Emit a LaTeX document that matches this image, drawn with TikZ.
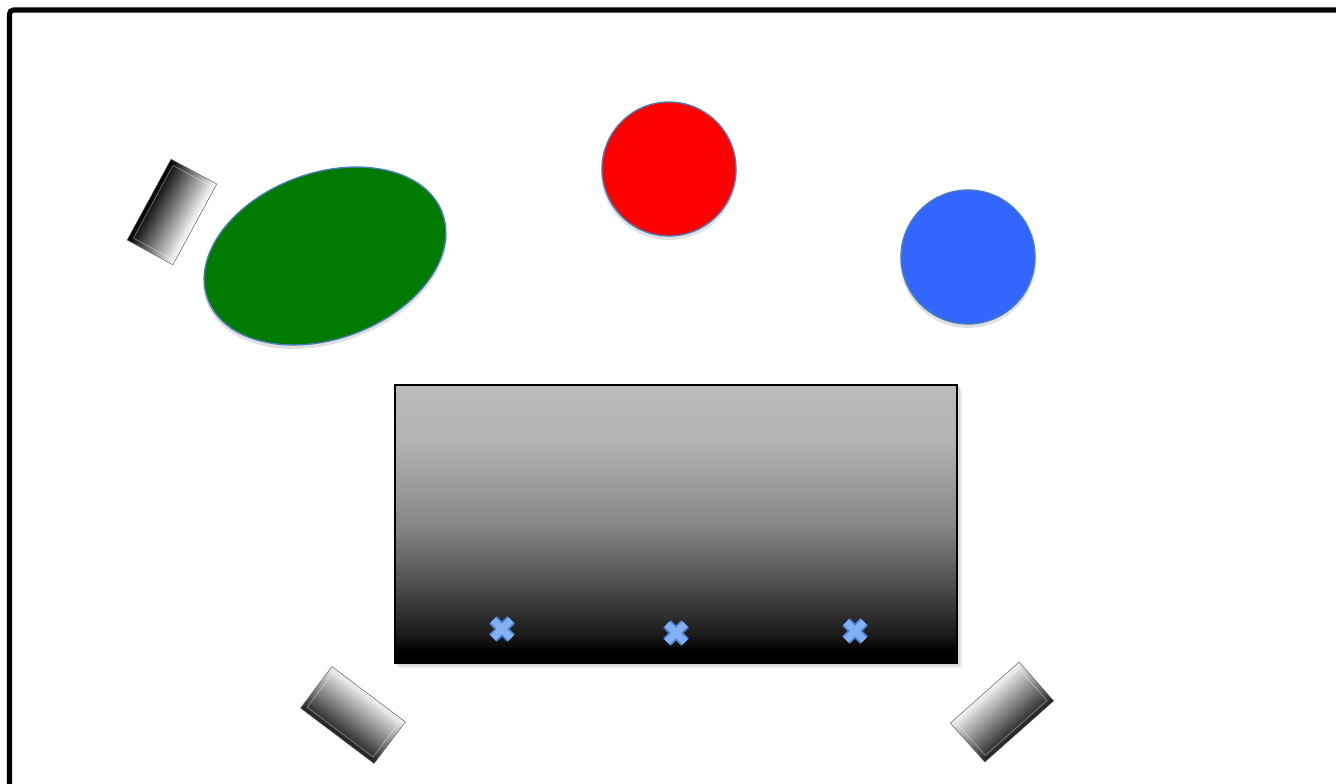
\documentclass[tikz,border=0pt]{standalone}
\usetikzlibrary{shapes.geometric}
\definecolor{stageblue}{HTML}{3366FF}
\definecolor{stagegreen}{HTML}{007A00}
\definecolor{rimblue}{HTML}{4A7EBB}
\definecolor{markblue}{HTML}{82B0F2}
\definecolor{markedge}{HTML}{4F7FCC}
\pgfdeclareverticalshading{deskshade}{100bp}{color(0bp)=(black); color(27bp)=(black); color(30bp)=(black!90); color(37.5bp)=(black!73); color(50bp)=(black!47); color(65bp)=(black!30); color(75bp)=(black!27); color(100bp)=(black!27)}
\tikzset{blob/.style = {draw=rimblue, line width=1pt, inner sep=0pt}}
\tikzset{halo/.style = {fill=black, opacity=0.12, inner sep=0pt}}
\tikzset{block/.style = {rectangle, inner sep=0pt, minimum width=69pt, minimum height=39pt, draw=black!60, line width=0.4pt}}
\tikzset{bevel/.style = {rectangle, inner sep=0pt, minimum width=62pt, minimum height=32pt, draw=white, opacity=0.35, line width=0.6pt}}
\tikzset{markrim/.style = {draw=markedge, line width=8pt}}
\tikzset{markcore/.style = {draw=markblue, line width=5.5pt}}
\begin{document}
\begin{tikzpicture}[x=0.75pt,y=-0.75pt]
\useasboundingbox (0,0) rectangle (1336,784);
\clip (0,0) rectangle (1336,784);
% frame
\draw[line width=3.8pt, rounded corners=3pt] (9.5,10) rectangle (1350,800);
% people
\node[halo, ellipse, minimum width=189pt, minimum height=126pt, rotate=20] at (325,259) {};
\node[halo, circle, minimum size=102pt] at (669,172) {};
\node[halo, circle, minimum size=102pt] at (968,260) {};
\node[blob, ellipse, fill=stagegreen, minimum width=187.5pt, minimum height=124.5pt, rotate=20] (guest) at (325,256) {};
\node[blob, circle, fill=red, minimum size=100.5pt] (host) at (669,169) {};
\node[blob, circle, fill=stageblue, minimum size=100.5pt] (judge) at (968,257) {};
% desk
\fill[black!8] (399,389) rectangle (962,668);
\fill[black!14] (397,387) rectangle (960,666);
\shade[shading=deskshade, draw=black, line width=1.3pt] (395,385) rectangle (957,663);
% microphones
\coordinate (mic1) at (502,629);
\coordinate (mic2) at (676,633);
\coordinate (mic3) at (855,631);
\draw[markrim] (mic1) ++(-9,-9) -- ++(18,18) (mic1) ++(-9,9) -- ++(18,-18);
\draw[markcore] (mic1) ++(-9,-9) -- ++(18,18) (mic1) ++(-9,9) -- ++(18,-18);
\draw[markrim] (mic2) ++(-9,-9) -- ++(18,18) (mic2) ++(-9,9) -- ++(18,-18);
\draw[markcore] (mic2) ++(-9,-9) -- ++(18,18) (mic2) ++(-9,9) -- ++(18,-18);
\draw[markrim] (mic3) ++(-9,-9) -- ++(18,18) (mic3) ++(-9,9) -- ++(18,-18);
\draw[markcore] (mic3) ++(-9,-9) -- ++(18,18) (mic3) ++(-9,9) -- ++(18,-18);
% cameras
\begin{scope}[transform canvas={shift={(172,212)}, rotate=61.5}]
\node[block, top color=black, bottom color=white] (camA) at (0,0) {};
\node[bevel] at (camA) {};
\end{scope}
\begin{scope}[transform canvas={shift={(353,715)}, rotate=-37}]
\node[block, top color=black!5, middle color=black!45, bottom color=black!88] (camB) at (0,0) {};
\node[bevel] at (camB) {};
\end{scope}
\begin{scope}[transform canvas={shift={(1002,712)}, rotate=41.6}]
\node[block, top color=black!5, middle color=black!45, bottom color=black!88] (camC) at (0,0) {};
\node[bevel] at (camC) {};
\end{scope}
\end{tikzpicture}
\end{document}
